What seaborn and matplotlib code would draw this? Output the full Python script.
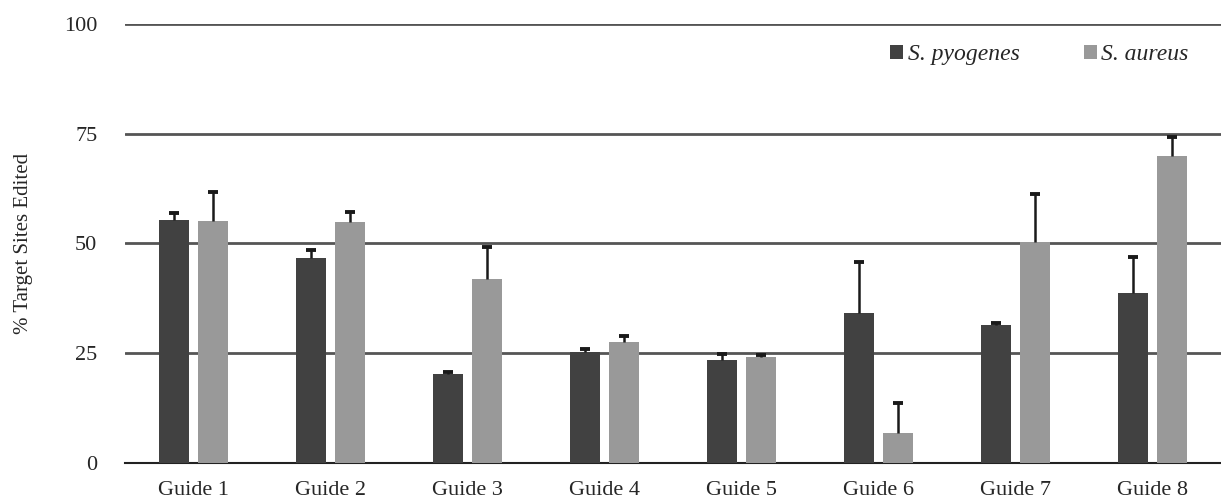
import numpy as np
import pandas as pd
import matplotlib
matplotlib.use('Agg')
import matplotlib.pyplot as plt
import seaborn as sns

# values
guides = ['Guide 1', 'Guide 2', 'Guide 3', 'Guide 4', 'Guide 5', 'Guide 6', 'Guide 7', 'Guide 8']
pyogenes = [55.3, 46.7, 20.3, 25.3, 23.5, 34.2, 31.5, 38.7]
pyogenes_err = [1.7, 1.8, 0.4, 0.7, 1.3, 11.6, 0.3, 8.2]
aureus = [55.1, 54.9, 41.9, 27.6, 24.1, 6.8, 50.3, 69.9]
aureus_err = [6.6, 2.3, 7.3, 1.3, 0.5, 6.9, 11.0, 4.4]
species = ['S. pyogenes', 'S. aureus']

df = pd.DataFrame({
    'guide': guides * 2,
    'species': [species[0]] * 8 + [species[1]] * 8,
    'value': pyogenes + aureus,
    'err': pyogenes_err + aureus_err,
})

sns.set_style('white')
plt.rcParams['font.family'] = ['Liberation Serif', 'DejaVu Serif']

fig = plt.figure(figsize=(12.21, 4.98), dpi=100)
ax = fig.add_axes([0.1024, 0.0703, 0.8976, 0.8815])

pal = {species[0]: '#414141', species[1]: '#999999'}
sns.barplot(data=df, x='guide', y='value', hue='species', palette=pal,
            width=0.57, gap=0.23, errorbar=None, saturation=1, linewidth=0,
            ax=ax, zorder=3)

# upward-only error bars placed on the drawn bars
cap = 0.035
for cont, sp in zip(ax.containers, species):
    errs = df[df['species'] == sp]['err'].values
    xs = np.array([p.get_x() + p.get_width() / 2 for p in cont.patches])
    hs = np.array([p.get_height() for p in cont.patches])
    ax.vlines(xs, hs, hs + errs, color='#1a1a1a', linewidth=1.8, zorder=4)
    ax.hlines(hs + errs, xs - cap, xs + cap, color='#1a1a1a', linewidth=2.8, zorder=4)

ax.set_ylim(0, 100)
ax.set_xlim(-0.5, 7.5)
ax.set_yticks([0, 25, 50, 75, 100])
ax.yaxis.grid(True, color='#555555', linewidth=2, zorder=0)
ax.set_axisbelow(True)
for s in ['top', 'right', 'left']:
    ax.spines[s].set_visible(False)
ax.spines['bottom'].set_color('#222222')
ax.spines['bottom'].set_linewidth(1.5)

ax.tick_params(axis='y', length=0, pad=20, labelsize=16)
ax.tick_params(axis='x', which='major', length=0, pad=13, labelsize=16)
ax.set_xticks(np.arange(-0.5, 8.0, 1), minor=True)
ax.tick_params(axis='x', which='minor', direction='out', length=6, width=1.5, color='#222222')

ax.set_xlabel('')
ax.set_ylabel('% Target Sites Edited', fontsize=15, labelpad=22)

handles, labels = ax.get_legend_handles_labels()
leg = ax.legend(handles, labels, loc='center right', bbox_to_anchor=(0.99, 0.93),
                ncol=2, frameon=False, handlelength=0.55, handleheight=0.55,
                handletextpad=0.2, columnspacing=2.7,
                prop={'family': 'Liberation Serif', 'style': 'italic', 'size': 17})

fig.savefig('out.png', dpi=100)
